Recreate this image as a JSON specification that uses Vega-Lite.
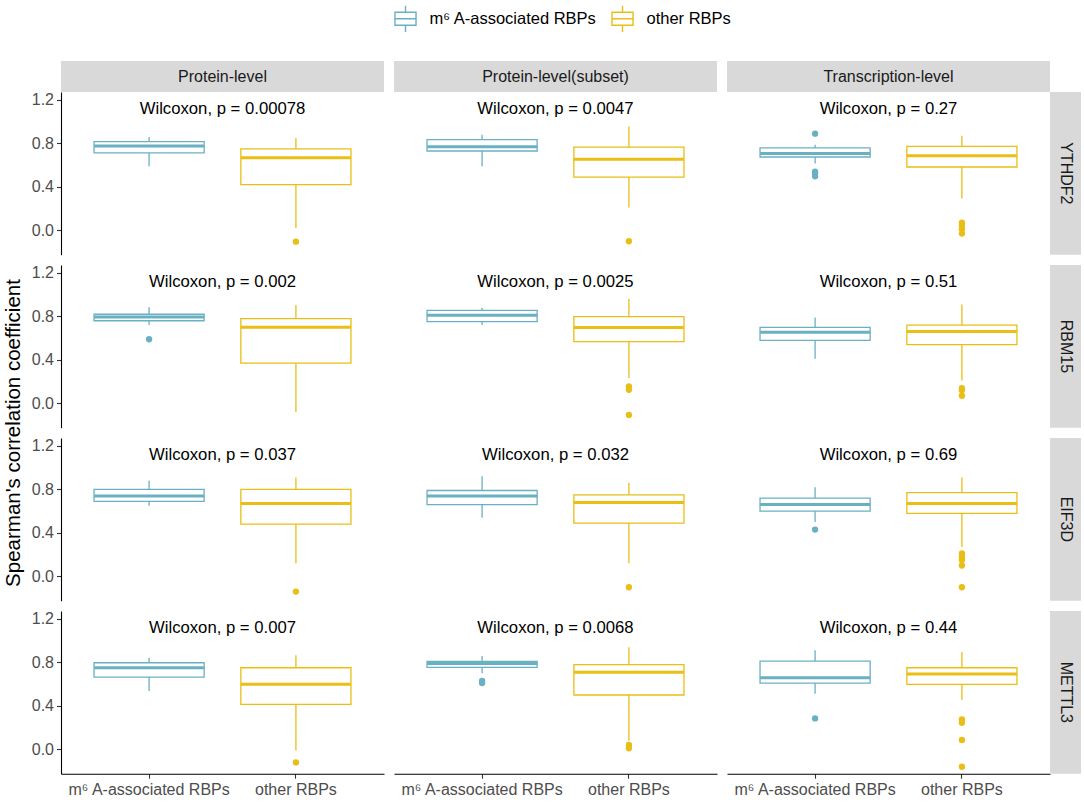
{
"$schema": "https://vega.github.io/schema/vega-lite/v6.json",
"padding": {"left": 3, "top": 4, "right": 0, "bottom": 0},
"bounds": "flush",
"align": "each",
"spacing": 0,
"columns": 8,
"data": {"values": [
{"kind":"box","level":"Protein-level","gene":"YTHDF2","group":"m⁶ A-associated RBPs","lo":0.59,"q1":0.712,"med":0.776,"q3":0.816,"hi":0.859},
{"kind":"box","level":"Protein-level","gene":"YTHDF2","group":"other RBPs","lo":0.022,"q1":0.42,"med":0.669,"q3":0.749,"hi":0.85},
{"kind":"box","level":"Protein-level","gene":"RBM15","group":"m⁶ A-associated RBPs","lo":0.72,"q1":0.76,"med":0.795,"q3":0.82,"hi":0.885},
{"kind":"box","level":"Protein-level","gene":"RBM15","group":"other RBPs","lo":-0.08,"q1":0.37,"med":0.70,"q3":0.78,"hi":0.905},
{"kind":"box","level":"Protein-level","gene":"EIF3D","group":"m⁶ A-associated RBPs","lo":0.65,"q1":0.69,"med":0.74,"q3":0.80,"hi":0.88},
{"kind":"box","level":"Protein-level","gene":"EIF3D","group":"other RBPs","lo":0.12,"q1":0.48,"med":0.67,"q3":0.80,"hi":0.91},
{"kind":"box","level":"Protein-level","gene":"METTL3","group":"m⁶ A-associated RBPs","lo":0.536,"q1":0.665,"med":0.751,"q3":0.797,"hi":0.843},
{"kind":"box","level":"Protein-level","gene":"METTL3","group":"other RBPs","lo":-0.01,"q1":0.414,"med":0.598,"q3":0.751,"hi":0.865},
{"kind":"box","level":"Protein-level(subset)","gene":"YTHDF2","group":"m⁶ A-associated RBPs","lo":0.59,"q1":0.73,"med":0.77,"q3":0.835,"hi":0.88},
{"kind":"box","level":"Protein-level(subset)","gene":"YTHDF2","group":"other RBPs","lo":0.21,"q1":0.49,"med":0.655,"q3":0.765,"hi":0.955},
{"kind":"box","level":"Protein-level(subset)","gene":"RBM15","group":"m⁶ A-associated RBPs","lo":0.721,"q1":0.752,"med":0.81,"q3":0.856,"hi":0.88},
{"kind":"box","level":"Protein-level(subset)","gene":"RBM15","group":"other RBPs","lo":0.231,"q1":0.568,"med":0.697,"q3":0.798,"hi":0.96},
{"kind":"box","level":"Protein-level(subset)","gene":"EIF3D","group":"m⁶ A-associated RBPs","lo":0.54,"q1":0.66,"med":0.74,"q3":0.79,"hi":0.92},
{"kind":"box","level":"Protein-level(subset)","gene":"EIF3D","group":"other RBPs","lo":0.12,"q1":0.49,"med":0.68,"q3":0.75,"hi":0.86},
{"kind":"box","level":"Protein-level(subset)","gene":"METTL3","group":"m⁶ A-associated RBPs","lo":0.70,"q1":0.755,"med":0.79,"q3":0.81,"hi":0.86},
{"kind":"box","level":"Protein-level(subset)","gene":"METTL3","group":"other RBPs","lo":0.08,"q1":0.50,"med":0.71,"q3":0.78,"hi":0.94},
{"kind":"box","level":"Transcription-level","gene":"YTHDF2","group":"m⁶ A-associated RBPs","lo":0.614,"q1":0.675,"med":0.706,"q3":0.758,"hi":0.788},
{"kind":"box","level":"Transcription-level","gene":"YTHDF2","group":"other RBPs","lo":0.292,"q1":0.583,"med":0.687,"q3":0.773,"hi":0.871},
{"kind":"box","level":"Transcription-level","gene":"RBM15","group":"m⁶ A-associated RBPs","lo":0.41,"q1":0.58,"med":0.655,"q3":0.70,"hi":0.79},
{"kind":"box","level":"Transcription-level","gene":"RBM15","group":"other RBPs","lo":0.21,"q1":0.54,"med":0.66,"q3":0.72,"hi":0.91},
{"kind":"box","level":"Transcription-level","gene":"EIF3D","group":"m⁶ A-associated RBPs","lo":0.50,"q1":0.60,"med":0.66,"q3":0.72,"hi":0.82},
{"kind":"box","level":"Transcription-level","gene":"EIF3D","group":"other RBPs","lo":0.27,"q1":0.58,"med":0.67,"q3":0.77,"hi":0.91},
{"kind":"box","level":"Transcription-level","gene":"METTL3","group":"m⁶ A-associated RBPs","lo":0.512,"q1":0.61,"med":0.659,"q3":0.812,"hi":0.911},
{"kind":"box","level":"Transcription-level","gene":"METTL3","group":"other RBPs","lo":0.454,"q1":0.598,"med":0.693,"q3":0.751,"hi":0.895},
{"kind":"out","level":"Protein-level","gene":"YTHDF2","group":"other RBPs","value":-0.104},
{"kind":"out","level":"Protein-level","gene":"RBM15","group":"m⁶ A-associated RBPs","value":0.59},
{"kind":"out","level":"Protein-level","gene":"EIF3D","group":"other RBPs","value":-0.14},
{"kind":"out","level":"Protein-level","gene":"METTL3","group":"other RBPs","value":-0.12},
{"kind":"out","level":"Protein-level(subset)","gene":"YTHDF2","group":"other RBPs","value":-0.1},
{"kind":"out","level":"Protein-level(subset)","gene":"RBM15","group":"other RBPs","value":0.155},
{"kind":"out","level":"Protein-level(subset)","gene":"RBM15","group":"other RBPs","value":0.125},
{"kind":"out","level":"Protein-level(subset)","gene":"RBM15","group":"other RBPs","value":-0.107},
{"kind":"out","level":"Protein-level(subset)","gene":"EIF3D","group":"other RBPs","value":-0.1},
{"kind":"out","level":"Protein-level(subset)","gene":"METTL3","group":"m⁶ A-associated RBPs","value":0.63},
{"kind":"out","level":"Protein-level(subset)","gene":"METTL3","group":"m⁶ A-associated RBPs","value":0.61},
{"kind":"out","level":"Protein-level(subset)","gene":"METTL3","group":"other RBPs","value":0.04},
{"kind":"out","level":"Protein-level(subset)","gene":"METTL3","group":"other RBPs","value":0.01},
{"kind":"out","level":"Transcription-level","gene":"YTHDF2","group":"m⁶ A-associated RBPs","value":0.89},
{"kind":"out","level":"Transcription-level","gene":"YTHDF2","group":"m⁶ A-associated RBPs","value":0.54},
{"kind":"out","level":"Transcription-level","gene":"YTHDF2","group":"m⁶ A-associated RBPs","value":0.52},
{"kind":"out","level":"Transcription-level","gene":"YTHDF2","group":"m⁶ A-associated RBPs","value":0.497},
{"kind":"out","level":"Transcription-level","gene":"YTHDF2","group":"other RBPs","value":0.07},
{"kind":"out","level":"Transcription-level","gene":"YTHDF2","group":"other RBPs","value":0.04},
{"kind":"out","level":"Transcription-level","gene":"YTHDF2","group":"other RBPs","value":0.01},
{"kind":"out","level":"Transcription-level","gene":"YTHDF2","group":"other RBPs","value":-0.03},
{"kind":"out","level":"Transcription-level","gene":"RBM15","group":"other RBPs","value":0.14},
{"kind":"out","level":"Transcription-level","gene":"RBM15","group":"other RBPs","value":0.12},
{"kind":"out","level":"Transcription-level","gene":"RBM15","group":"other RBPs","value":0.07},
{"kind":"out","level":"Transcription-level","gene":"EIF3D","group":"m⁶ A-associated RBPs","value":0.43},
{"kind":"out","level":"Transcription-level","gene":"EIF3D","group":"other RBPs","value":0.21},
{"kind":"out","level":"Transcription-level","gene":"EIF3D","group":"other RBPs","value":0.18},
{"kind":"out","level":"Transcription-level","gene":"EIF3D","group":"other RBPs","value":0.15},
{"kind":"out","level":"Transcription-level","gene":"EIF3D","group":"other RBPs","value":0.10},
{"kind":"out","level":"Transcription-level","gene":"EIF3D","group":"other RBPs","value":-0.10},
{"kind":"out","level":"Transcription-level","gene":"METTL3","group":"m⁶ A-associated RBPs","value":0.285},
{"kind":"out","level":"Transcription-level","gene":"METTL3","group":"other RBPs","value":0.276},
{"kind":"out","level":"Transcription-level","gene":"METTL3","group":"other RBPs","value":0.245},
{"kind":"out","level":"Transcription-level","gene":"METTL3","group":"other RBPs","value":0.086},
{"kind":"out","level":"Transcription-level","gene":"METTL3","group":"other RBPs","value":-0.16},
{"kind":"lab","level":"Protein-level","gene":"YTHDF2","label":"Wilcoxon, p = 0.00078"},
{"kind":"lab","level":"Protein-level","gene":"RBM15","label":"Wilcoxon, p = 0.002"},
{"kind":"lab","level":"Protein-level","gene":"EIF3D","label":"Wilcoxon, p = 0.037"},
{"kind":"lab","level":"Protein-level","gene":"METTL3","label":"Wilcoxon, p = 0.007"},
{"kind":"lab","level":"Protein-level(subset)","gene":"YTHDF2","label":"Wilcoxon, p = 0.0047"},
{"kind":"lab","level":"Protein-level(subset)","gene":"RBM15","label":"Wilcoxon, p = 0.0025"},
{"kind":"lab","level":"Protein-level(subset)","gene":"EIF3D","label":"Wilcoxon, p = 0.032"},
{"kind":"lab","level":"Protein-level(subset)","gene":"METTL3","label":"Wilcoxon, p = 0.0068"},
{"kind":"lab","level":"Transcription-level","gene":"YTHDF2","label":"Wilcoxon, p = 0.27"},
{"kind":"lab","level":"Transcription-level","gene":"RBM15","label":"Wilcoxon, p = 0.51"},
{"kind":"lab","level":"Transcription-level","gene":"EIF3D","label":"Wilcoxon, p = 0.69"},
{"kind":"lab","level":"Transcription-level","gene":"METTL3","label":"Wilcoxon, p = 0.44"},
{"kind":"strip","name":"Protein-level"},
{"kind":"strip","name":"Protein-level(subset)"},
{"kind":"strip","name":"Transcription-level"},
{"kind":"strip","name":"YTHDF2"},
{"kind":"strip","name":"RBM15"},
{"kind":"strip","name":"EIF3D"},
{"kind":"strip","name":"METTL3"},
{"kind":"ytitle","name":"Spearman's correlation coefficient"}
]},
"concat": [
{"width":20,"height":31,"transform":[{"filter":"false"}],"mark":"text","encoding":{}},
{"width":37,"height":31,"transform":[{"filter":"false"}],"mark":"text","encoding":{}},
{"width":323,"height":31,"view":{"fill":"#D9D9D9"},"transform":[{"filter":"datum.kind==='strip' && datum.name==='Protein-level'"}],"mark":{"type":"text","fontSize":16,"color":"#1A1A1A"},"encoding":{"text":{"field":"name"}}},
{"width":9.3,"height":31,"transform":[{"filter":"false"}],"mark":"text","encoding":{}},
{"width":323,"height":31,"view":{"fill":"#D9D9D9"},"transform":[{"filter":"datum.kind==='strip' && datum.name==='Protein-level(subset)'"}],"mark":{"type":"text","fontSize":16,"color":"#1A1A1A"},"encoding":{"text":{"field":"name"}}},
{"width":9.3,"height":31,"transform":[{"filter":"false"}],"mark":"text","encoding":{}},
{"width":323,"height":31,"view":{"fill":"#D9D9D9"},"transform":[{"filter":"datum.kind==='strip' && datum.name==='Transcription-level'"}],"mark":{"type":"text","fontSize":16,"color":"#1A1A1A"},"encoding":{"text":{"field":"name"}}},
{"width":31,"height":31,"transform":[{"filter":"false"}],"mark":"text","encoding":{}},

{"width":20,"height":162.7,"transform":[{"filter":"false"}],"mark":"text","encoding":{}},
{"width":37,"height":162.7,"transform":[{"filter":"false"}],"mark":"text","encoding":{}},
{"width":323,"height":162.7,"transform":[{"filter":"datum.level==='Protein-level' && datum.gene==='YTHDF2'"}],"layer":[
{"transform":[{"filter":"datum.kind==='box'"}],"mark":{"type":"rule","strokeWidth":1.3},"encoding":{"x":{"field":"group","type":"nominal","title":null,"scale":{"domain":["m⁶ A-associated RBPs","other RBPs"],"paddingInner":0,"paddingOuter":0.1},"axis":null},"y":{"field":"lo","type":"quantitative","title":null,"scale":{"domain":[-0.224,1.273],"nice":false,"zero":false},"axis":{"values":[0,0.4,0.8,1.2],"format":".1f"}},"y2":{"field":"hi"},"color":{"field":"group","type":"nominal","scale":{"domain":["m⁶ A-associated RBPs","other RBPs"],"range":["#6AB0C3","#E9BE15"]},"legend":null}}},
{"transform":[{"filter":"datum.kind==='box'"}],"mark":{"type":"bar","fill":"white","strokeWidth":1.3,"width":{"band":0.75}},"encoding":{"x":{"field":"group","type":"nominal","title":null,"scale":{"domain":["m⁶ A-associated RBPs","other RBPs"],"paddingInner":0,"paddingOuter":0.1},"axis":null},"y":{"field":"q1","type":"quantitative","title":null,"scale":{"domain":[-0.224,1.273],"nice":false,"zero":false},"axis":{"values":[0,0.4,0.8,1.2],"format":".1f"}},"y2":{"field":"q3"},"stroke":{"field":"group","type":"nominal","scale":{"domain":["m⁶ A-associated RBPs","other RBPs"],"range":["#6AB0C3","#E9BE15"]},"legend":{"title":null,"orient":"none","legendX":387,"legendY":-57,"direction":"horizontal","symbolType":"M-0.78,-0.48H0.78V0.48H-0.78Z M0,-0.48V-0.97 M0,0.48V0.97 M-0.78,0H0.78","symbolSize":729}}}},
{"transform":[{"filter":"datum.kind==='box'"}],"mark":{"type":"tick","thickness":3,"size":110,"opacity":1},"encoding":{"x":{"field":"group","type":"nominal","title":null,"scale":{"domain":["m⁶ A-associated RBPs","other RBPs"],"paddingInner":0,"paddingOuter":0.1},"axis":null},"y":{"field":"med","type":"quantitative","title":null,"scale":{"domain":[-0.224,1.273],"nice":false,"zero":false},"axis":{"values":[0,0.4,0.8,1.2],"format":".1f"}},"color":{"field":"group","type":"nominal","scale":{"domain":["m⁶ A-associated RBPs","other RBPs"],"range":["#6AB0C3","#E9BE15"]},"legend":null}}},
{"transform":[{"filter":"datum.kind==='out'"}],"mark":{"type":"point","filled":true,"opacity":1,"size":40},"encoding":{"x":{"field":"group","type":"nominal","title":null,"scale":{"domain":["m⁶ A-associated RBPs","other RBPs"],"paddingInner":0,"paddingOuter":0.1},"axis":null},"y":{"field":"value","type":"quantitative","title":null,"scale":{"domain":[-0.224,1.273],"nice":false,"zero":false},"axis":{"values":[0,0.4,0.8,1.2],"format":".1f"}},"color":{"field":"group","type":"nominal","scale":{"domain":["m⁶ A-associated RBPs","other RBPs"],"range":["#6AB0C3","#E9BE15"]},"legend":{"title":null,"orient":"top","direction":"horizontal"}}}},
{"transform":[{"filter":"datum.kind==='lab'"}],"mark":{"type":"text","fontSize":16.7,"color":"black","baseline":"alphabetic"},"encoding":{"y":{"datum":1.074,"type":"quantitative","title":null,"scale":{"domain":[-0.224,1.273],"nice":false,"zero":false},"axis":{"values":[0,0.4,0.8,1.2],"format":".1f"}},"text":{"field":"label"}}}
]},
{"width":9.3,"height":162.7,"transform":[{"filter":"false"}],"mark":"text","encoding":{}},
{"width":323,"height":162.7,"transform":[{"filter":"datum.level==='Protein-level(subset)' && datum.gene==='YTHDF2'"}],"layer":[
{"transform":[{"filter":"datum.kind==='box'"}],"mark":{"type":"rule","strokeWidth":1.3},"encoding":{"x":{"field":"group","type":"nominal","title":null,"scale":{"domain":["m⁶ A-associated RBPs","other RBPs"],"paddingInner":0,"paddingOuter":0.1},"axis":null},"y":{"field":"lo","type":"quantitative","title":null,"scale":{"domain":[-0.224,1.273],"nice":false,"zero":false},"axis":null},"y2":{"field":"hi"},"color":{"field":"group","type":"nominal","scale":{"domain":["m⁶ A-associated RBPs","other RBPs"],"range":["#6AB0C3","#E9BE15"]},"legend":null}}},
{"transform":[{"filter":"datum.kind==='box'"}],"mark":{"type":"bar","fill":"white","strokeWidth":1.3,"width":{"band":0.75}},"encoding":{"x":{"field":"group","type":"nominal","title":null,"scale":{"domain":["m⁶ A-associated RBPs","other RBPs"],"paddingInner":0,"paddingOuter":0.1},"axis":null},"y":{"field":"q1","type":"quantitative","title":null,"scale":{"domain":[-0.224,1.273],"nice":false,"zero":false},"axis":null},"y2":{"field":"q3"},"stroke":{"field":"group","type":"nominal","scale":{"domain":["m⁶ A-associated RBPs","other RBPs"],"range":["#6AB0C3","#E9BE15"]},"legend":{"title":null,"orient":"none","legendX":387,"legendY":-57,"direction":"horizontal","symbolType":"M-0.78,-0.48H0.78V0.48H-0.78Z M0,-0.48V-0.97 M0,0.48V0.97 M-0.78,0H0.78","symbolSize":729}}}},
{"transform":[{"filter":"datum.kind==='box'"}],"mark":{"type":"tick","thickness":3,"size":110,"opacity":1},"encoding":{"x":{"field":"group","type":"nominal","title":null,"scale":{"domain":["m⁶ A-associated RBPs","other RBPs"],"paddingInner":0,"paddingOuter":0.1},"axis":null},"y":{"field":"med","type":"quantitative","title":null,"scale":{"domain":[-0.224,1.273],"nice":false,"zero":false},"axis":null},"color":{"field":"group","type":"nominal","scale":{"domain":["m⁶ A-associated RBPs","other RBPs"],"range":["#6AB0C3","#E9BE15"]},"legend":null}}},
{"transform":[{"filter":"datum.kind==='out'"}],"mark":{"type":"point","filled":true,"opacity":1,"size":40},"encoding":{"x":{"field":"group","type":"nominal","title":null,"scale":{"domain":["m⁶ A-associated RBPs","other RBPs"],"paddingInner":0,"paddingOuter":0.1},"axis":null},"y":{"field":"value","type":"quantitative","title":null,"scale":{"domain":[-0.224,1.273],"nice":false,"zero":false},"axis":null},"color":{"field":"group","type":"nominal","scale":{"domain":["m⁶ A-associated RBPs","other RBPs"],"range":["#6AB0C3","#E9BE15"]},"legend":{"title":null,"orient":"top","direction":"horizontal"}}}},
{"transform":[{"filter":"datum.kind==='lab'"}],"mark":{"type":"text","fontSize":16.7,"color":"black","baseline":"alphabetic"},"encoding":{"y":{"datum":1.074,"type":"quantitative","title":null,"scale":{"domain":[-0.224,1.273],"nice":false,"zero":false},"axis":null},"text":{"field":"label"}}}
]},
{"width":9.3,"height":162.7,"transform":[{"filter":"false"}],"mark":"text","encoding":{}},
{"width":323,"height":162.7,"transform":[{"filter":"datum.level==='Transcription-level' && datum.gene==='YTHDF2'"}],"layer":[
{"transform":[{"filter":"datum.kind==='box'"}],"mark":{"type":"rule","strokeWidth":1.3},"encoding":{"x":{"field":"group","type":"nominal","title":null,"scale":{"domain":["m⁶ A-associated RBPs","other RBPs"],"paddingInner":0,"paddingOuter":0.1},"axis":null},"y":{"field":"lo","type":"quantitative","title":null,"scale":{"domain":[-0.224,1.273],"nice":false,"zero":false},"axis":null},"y2":{"field":"hi"},"color":{"field":"group","type":"nominal","scale":{"domain":["m⁶ A-associated RBPs","other RBPs"],"range":["#6AB0C3","#E9BE15"]},"legend":null}}},
{"transform":[{"filter":"datum.kind==='box'"}],"mark":{"type":"bar","fill":"white","strokeWidth":1.3,"width":{"band":0.75}},"encoding":{"x":{"field":"group","type":"nominal","title":null,"scale":{"domain":["m⁶ A-associated RBPs","other RBPs"],"paddingInner":0,"paddingOuter":0.1},"axis":null},"y":{"field":"q1","type":"quantitative","title":null,"scale":{"domain":[-0.224,1.273],"nice":false,"zero":false},"axis":null},"y2":{"field":"q3"},"stroke":{"field":"group","type":"nominal","scale":{"domain":["m⁶ A-associated RBPs","other RBPs"],"range":["#6AB0C3","#E9BE15"]},"legend":{"title":null,"orient":"none","legendX":387,"legendY":-57,"direction":"horizontal","symbolType":"M-0.78,-0.48H0.78V0.48H-0.78Z M0,-0.48V-0.97 M0,0.48V0.97 M-0.78,0H0.78","symbolSize":729}}}},
{"transform":[{"filter":"datum.kind==='box'"}],"mark":{"type":"tick","thickness":3,"size":110,"opacity":1},"encoding":{"x":{"field":"group","type":"nominal","title":null,"scale":{"domain":["m⁶ A-associated RBPs","other RBPs"],"paddingInner":0,"paddingOuter":0.1},"axis":null},"y":{"field":"med","type":"quantitative","title":null,"scale":{"domain":[-0.224,1.273],"nice":false,"zero":false},"axis":null},"color":{"field":"group","type":"nominal","scale":{"domain":["m⁶ A-associated RBPs","other RBPs"],"range":["#6AB0C3","#E9BE15"]},"legend":null}}},
{"transform":[{"filter":"datum.kind==='out'"}],"mark":{"type":"point","filled":true,"opacity":1,"size":40},"encoding":{"x":{"field":"group","type":"nominal","title":null,"scale":{"domain":["m⁶ A-associated RBPs","other RBPs"],"paddingInner":0,"paddingOuter":0.1},"axis":null},"y":{"field":"value","type":"quantitative","title":null,"scale":{"domain":[-0.224,1.273],"nice":false,"zero":false},"axis":null},"color":{"field":"group","type":"nominal","scale":{"domain":["m⁶ A-associated RBPs","other RBPs"],"range":["#6AB0C3","#E9BE15"]},"legend":{"title":null,"orient":"top","direction":"horizontal"}}}},
{"transform":[{"filter":"datum.kind==='lab'"}],"mark":{"type":"text","fontSize":16.7,"color":"black","baseline":"alphabetic"},"encoding":{"y":{"datum":1.074,"type":"quantitative","title":null,"scale":{"domain":[-0.224,1.273],"nice":false,"zero":false},"axis":null},"text":{"field":"label"}}}
]},
{"width":31,"height":162.7,"view":{"fill":"#D9D9D9"},"transform":[{"filter":"datum.kind==='strip' && datum.name==='YTHDF2'"}],"mark":{"type":"text","fontSize":16,"color":"#1A1A1A","angle":90},"encoding":{"text":{"field":"name"}}},

{"width":20,"height":10,"transform":[{"filter":"false"}],"mark":"text","encoding":{}},
{"width":37,"height":10,"transform":[{"filter":"false"}],"mark":"text","encoding":{}},
{"width":323,"height":10,"transform":[{"filter":"false"}],"mark":"text","encoding":{}},
{"width":9.3,"height":10,"transform":[{"filter":"false"}],"mark":"text","encoding":{}},
{"width":323,"height":10,"transform":[{"filter":"false"}],"mark":"text","encoding":{}},
{"width":9.3,"height":10,"transform":[{"filter":"false"}],"mark":"text","encoding":{}},
{"width":323,"height":10,"transform":[{"filter":"false"}],"mark":"text","encoding":{}},
{"width":31,"height":10,"transform":[{"filter":"false"}],"mark":"text","encoding":{}},

{"width":20,"height":162.7,"transform":[{"filter":"false"}],"mark":"text","encoding":{}},
{"width":37,"height":162.7,"transform":[{"filter":"false"}],"mark":"text","encoding":{}},
{"width":323,"height":162.7,"transform":[{"filter":"datum.level==='Protein-level' && datum.gene==='RBM15'"}],"layer":[
{"transform":[{"filter":"datum.kind==='box'"}],"mark":{"type":"rule","strokeWidth":1.3},"encoding":{"x":{"field":"group","type":"nominal","title":null,"scale":{"domain":["m⁶ A-associated RBPs","other RBPs"],"paddingInner":0,"paddingOuter":0.1},"axis":null},"y":{"field":"lo","type":"quantitative","title":null,"scale":{"domain":[-0.224,1.273],"nice":false,"zero":false},"axis":{"values":[0,0.4,0.8,1.2],"format":".1f"}},"y2":{"field":"hi"},"color":{"field":"group","type":"nominal","scale":{"domain":["m⁶ A-associated RBPs","other RBPs"],"range":["#6AB0C3","#E9BE15"]},"legend":null}}},
{"transform":[{"filter":"datum.kind==='box'"}],"mark":{"type":"bar","fill":"white","strokeWidth":1.3,"width":{"band":0.75}},"encoding":{"x":{"field":"group","type":"nominal","title":null,"scale":{"domain":["m⁶ A-associated RBPs","other RBPs"],"paddingInner":0,"paddingOuter":0.1},"axis":null},"y":{"field":"q1","type":"quantitative","title":null,"scale":{"domain":[-0.224,1.273],"nice":false,"zero":false},"axis":{"values":[0,0.4,0.8,1.2],"format":".1f"}},"y2":{"field":"q3"},"stroke":{"field":"group","type":"nominal","scale":{"domain":["m⁶ A-associated RBPs","other RBPs"],"range":["#6AB0C3","#E9BE15"]},"legend":{"title":null,"orient":"none","legendX":387,"legendY":-57,"direction":"horizontal","symbolType":"M-0.78,-0.48H0.78V0.48H-0.78Z M0,-0.48V-0.97 M0,0.48V0.97 M-0.78,0H0.78","symbolSize":729}}}},
{"transform":[{"filter":"datum.kind==='box'"}],"mark":{"type":"tick","thickness":3,"size":110,"opacity":1},"encoding":{"x":{"field":"group","type":"nominal","title":null,"scale":{"domain":["m⁶ A-associated RBPs","other RBPs"],"paddingInner":0,"paddingOuter":0.1},"axis":null},"y":{"field":"med","type":"quantitative","title":null,"scale":{"domain":[-0.224,1.273],"nice":false,"zero":false},"axis":{"values":[0,0.4,0.8,1.2],"format":".1f"}},"color":{"field":"group","type":"nominal","scale":{"domain":["m⁶ A-associated RBPs","other RBPs"],"range":["#6AB0C3","#E9BE15"]},"legend":null}}},
{"transform":[{"filter":"datum.kind==='out'"}],"mark":{"type":"point","filled":true,"opacity":1,"size":40},"encoding":{"x":{"field":"group","type":"nominal","title":null,"scale":{"domain":["m⁶ A-associated RBPs","other RBPs"],"paddingInner":0,"paddingOuter":0.1},"axis":null},"y":{"field":"value","type":"quantitative","title":null,"scale":{"domain":[-0.224,1.273],"nice":false,"zero":false},"axis":{"values":[0,0.4,0.8,1.2],"format":".1f"}},"color":{"field":"group","type":"nominal","scale":{"domain":["m⁶ A-associated RBPs","other RBPs"],"range":["#6AB0C3","#E9BE15"]},"legend":{"title":null,"orient":"top","direction":"horizontal"}}}},
{"transform":[{"filter":"datum.kind==='lab'"}],"mark":{"type":"text","fontSize":16.7,"color":"black","baseline":"alphabetic"},"encoding":{"y":{"datum":1.074,"type":"quantitative","title":null,"scale":{"domain":[-0.224,1.273],"nice":false,"zero":false},"axis":{"values":[0,0.4,0.8,1.2],"format":".1f"}},"text":{"field":"label"}}}
]},
{"width":9.3,"height":162.7,"transform":[{"filter":"false"}],"mark":"text","encoding":{}},
{"width":323,"height":162.7,"transform":[{"filter":"datum.level==='Protein-level(subset)' && datum.gene==='RBM15'"}],"layer":[
{"transform":[{"filter":"datum.kind==='box'"}],"mark":{"type":"rule","strokeWidth":1.3},"encoding":{"x":{"field":"group","type":"nominal","title":null,"scale":{"domain":["m⁶ A-associated RBPs","other RBPs"],"paddingInner":0,"paddingOuter":0.1},"axis":null},"y":{"field":"lo","type":"quantitative","title":null,"scale":{"domain":[-0.224,1.273],"nice":false,"zero":false},"axis":null},"y2":{"field":"hi"},"color":{"field":"group","type":"nominal","scale":{"domain":["m⁶ A-associated RBPs","other RBPs"],"range":["#6AB0C3","#E9BE15"]},"legend":null}}},
{"transform":[{"filter":"datum.kind==='box'"}],"mark":{"type":"bar","fill":"white","strokeWidth":1.3,"width":{"band":0.75}},"encoding":{"x":{"field":"group","type":"nominal","title":null,"scale":{"domain":["m⁶ A-associated RBPs","other RBPs"],"paddingInner":0,"paddingOuter":0.1},"axis":null},"y":{"field":"q1","type":"quantitative","title":null,"scale":{"domain":[-0.224,1.273],"nice":false,"zero":false},"axis":null},"y2":{"field":"q3"},"stroke":{"field":"group","type":"nominal","scale":{"domain":["m⁶ A-associated RBPs","other RBPs"],"range":["#6AB0C3","#E9BE15"]},"legend":{"title":null,"orient":"none","legendX":387,"legendY":-57,"direction":"horizontal","symbolType":"M-0.78,-0.48H0.78V0.48H-0.78Z M0,-0.48V-0.97 M0,0.48V0.97 M-0.78,0H0.78","symbolSize":729}}}},
{"transform":[{"filter":"datum.kind==='box'"}],"mark":{"type":"tick","thickness":3,"size":110,"opacity":1},"encoding":{"x":{"field":"group","type":"nominal","title":null,"scale":{"domain":["m⁶ A-associated RBPs","other RBPs"],"paddingInner":0,"paddingOuter":0.1},"axis":null},"y":{"field":"med","type":"quantitative","title":null,"scale":{"domain":[-0.224,1.273],"nice":false,"zero":false},"axis":null},"color":{"field":"group","type":"nominal","scale":{"domain":["m⁶ A-associated RBPs","other RBPs"],"range":["#6AB0C3","#E9BE15"]},"legend":null}}},
{"transform":[{"filter":"datum.kind==='out'"}],"mark":{"type":"point","filled":true,"opacity":1,"size":40},"encoding":{"x":{"field":"group","type":"nominal","title":null,"scale":{"domain":["m⁶ A-associated RBPs","other RBPs"],"paddingInner":0,"paddingOuter":0.1},"axis":null},"y":{"field":"value","type":"quantitative","title":null,"scale":{"domain":[-0.224,1.273],"nice":false,"zero":false},"axis":null},"color":{"field":"group","type":"nominal","scale":{"domain":["m⁶ A-associated RBPs","other RBPs"],"range":["#6AB0C3","#E9BE15"]},"legend":{"title":null,"orient":"top","direction":"horizontal"}}}},
{"transform":[{"filter":"datum.kind==='lab'"}],"mark":{"type":"text","fontSize":16.7,"color":"black","baseline":"alphabetic"},"encoding":{"y":{"datum":1.074,"type":"quantitative","title":null,"scale":{"domain":[-0.224,1.273],"nice":false,"zero":false},"axis":null},"text":{"field":"label"}}}
]},
{"width":9.3,"height":162.7,"transform":[{"filter":"false"}],"mark":"text","encoding":{}},
{"width":323,"height":162.7,"transform":[{"filter":"datum.level==='Transcription-level' && datum.gene==='RBM15'"}],"layer":[
{"transform":[{"filter":"datum.kind==='box'"}],"mark":{"type":"rule","strokeWidth":1.3},"encoding":{"x":{"field":"group","type":"nominal","title":null,"scale":{"domain":["m⁶ A-associated RBPs","other RBPs"],"paddingInner":0,"paddingOuter":0.1},"axis":null},"y":{"field":"lo","type":"quantitative","title":null,"scale":{"domain":[-0.224,1.273],"nice":false,"zero":false},"axis":null},"y2":{"field":"hi"},"color":{"field":"group","type":"nominal","scale":{"domain":["m⁶ A-associated RBPs","other RBPs"],"range":["#6AB0C3","#E9BE15"]},"legend":null}}},
{"transform":[{"filter":"datum.kind==='box'"}],"mark":{"type":"bar","fill":"white","strokeWidth":1.3,"width":{"band":0.75}},"encoding":{"x":{"field":"group","type":"nominal","title":null,"scale":{"domain":["m⁶ A-associated RBPs","other RBPs"],"paddingInner":0,"paddingOuter":0.1},"axis":null},"y":{"field":"q1","type":"quantitative","title":null,"scale":{"domain":[-0.224,1.273],"nice":false,"zero":false},"axis":null},"y2":{"field":"q3"},"stroke":{"field":"group","type":"nominal","scale":{"domain":["m⁶ A-associated RBPs","other RBPs"],"range":["#6AB0C3","#E9BE15"]},"legend":{"title":null,"orient":"none","legendX":387,"legendY":-57,"direction":"horizontal","symbolType":"M-0.78,-0.48H0.78V0.48H-0.78Z M0,-0.48V-0.97 M0,0.48V0.97 M-0.78,0H0.78","symbolSize":729}}}},
{"transform":[{"filter":"datum.kind==='box'"}],"mark":{"type":"tick","thickness":3,"size":110,"opacity":1},"encoding":{"x":{"field":"group","type":"nominal","title":null,"scale":{"domain":["m⁶ A-associated RBPs","other RBPs"],"paddingInner":0,"paddingOuter":0.1},"axis":null},"y":{"field":"med","type":"quantitative","title":null,"scale":{"domain":[-0.224,1.273],"nice":false,"zero":false},"axis":null},"color":{"field":"group","type":"nominal","scale":{"domain":["m⁶ A-associated RBPs","other RBPs"],"range":["#6AB0C3","#E9BE15"]},"legend":null}}},
{"transform":[{"filter":"datum.kind==='out'"}],"mark":{"type":"point","filled":true,"opacity":1,"size":40},"encoding":{"x":{"field":"group","type":"nominal","title":null,"scale":{"domain":["m⁶ A-associated RBPs","other RBPs"],"paddingInner":0,"paddingOuter":0.1},"axis":null},"y":{"field":"value","type":"quantitative","title":null,"scale":{"domain":[-0.224,1.273],"nice":false,"zero":false},"axis":null},"color":{"field":"group","type":"nominal","scale":{"domain":["m⁶ A-associated RBPs","other RBPs"],"range":["#6AB0C3","#E9BE15"]},"legend":{"title":null,"orient":"top","direction":"horizontal"}}}},
{"transform":[{"filter":"datum.kind==='lab'"}],"mark":{"type":"text","fontSize":16.7,"color":"black","baseline":"alphabetic"},"encoding":{"y":{"datum":1.074,"type":"quantitative","title":null,"scale":{"domain":[-0.224,1.273],"nice":false,"zero":false},"axis":null},"text":{"field":"label"}}}
]},
{"width":31,"height":162.7,"view":{"fill":"#D9D9D9"},"transform":[{"filter":"datum.kind==='strip' && datum.name==='RBM15'"}],"mark":{"type":"text","fontSize":16,"color":"#1A1A1A","angle":90},"encoding":{"text":{"field":"name"}}},

{"width":20,"height":10,"transform":[{"filter":"datum.kind==='ytitle'"}],"mark":{"type":"text","angle":270,"fontSize":20.5,"color":"black"},"encoding":{"text":{"field":"name"}}},
{"width":37,"height":10,"transform":[{"filter":"false"}],"mark":"text","encoding":{}},
{"width":323,"height":10,"transform":[{"filter":"false"}],"mark":"text","encoding":{}},
{"width":9.3,"height":10,"transform":[{"filter":"false"}],"mark":"text","encoding":{}},
{"width":323,"height":10,"transform":[{"filter":"false"}],"mark":"text","encoding":{}},
{"width":9.3,"height":10,"transform":[{"filter":"false"}],"mark":"text","encoding":{}},
{"width":323,"height":10,"transform":[{"filter":"false"}],"mark":"text","encoding":{}},
{"width":31,"height":10,"transform":[{"filter":"false"}],"mark":"text","encoding":{}},

{"width":20,"height":162.7,"transform":[{"filter":"false"}],"mark":"text","encoding":{}},
{"width":37,"height":162.7,"transform":[{"filter":"false"}],"mark":"text","encoding":{}},
{"width":323,"height":162.7,"transform":[{"filter":"datum.level==='Protein-level' && datum.gene==='EIF3D'"}],"layer":[
{"transform":[{"filter":"datum.kind==='box'"}],"mark":{"type":"rule","strokeWidth":1.3},"encoding":{"x":{"field":"group","type":"nominal","title":null,"scale":{"domain":["m⁶ A-associated RBPs","other RBPs"],"paddingInner":0,"paddingOuter":0.1},"axis":null},"y":{"field":"lo","type":"quantitative","title":null,"scale":{"domain":[-0.224,1.273],"nice":false,"zero":false},"axis":{"values":[0,0.4,0.8,1.2],"format":".1f"}},"y2":{"field":"hi"},"color":{"field":"group","type":"nominal","scale":{"domain":["m⁶ A-associated RBPs","other RBPs"],"range":["#6AB0C3","#E9BE15"]},"legend":null}}},
{"transform":[{"filter":"datum.kind==='box'"}],"mark":{"type":"bar","fill":"white","strokeWidth":1.3,"width":{"band":0.75}},"encoding":{"x":{"field":"group","type":"nominal","title":null,"scale":{"domain":["m⁶ A-associated RBPs","other RBPs"],"paddingInner":0,"paddingOuter":0.1},"axis":null},"y":{"field":"q1","type":"quantitative","title":null,"scale":{"domain":[-0.224,1.273],"nice":false,"zero":false},"axis":{"values":[0,0.4,0.8,1.2],"format":".1f"}},"y2":{"field":"q3"},"stroke":{"field":"group","type":"nominal","scale":{"domain":["m⁶ A-associated RBPs","other RBPs"],"range":["#6AB0C3","#E9BE15"]},"legend":{"title":null,"orient":"none","legendX":387,"legendY":-57,"direction":"horizontal","symbolType":"M-0.78,-0.48H0.78V0.48H-0.78Z M0,-0.48V-0.97 M0,0.48V0.97 M-0.78,0H0.78","symbolSize":729}}}},
{"transform":[{"filter":"datum.kind==='box'"}],"mark":{"type":"tick","thickness":3,"size":110,"opacity":1},"encoding":{"x":{"field":"group","type":"nominal","title":null,"scale":{"domain":["m⁶ A-associated RBPs","other RBPs"],"paddingInner":0,"paddingOuter":0.1},"axis":null},"y":{"field":"med","type":"quantitative","title":null,"scale":{"domain":[-0.224,1.273],"nice":false,"zero":false},"axis":{"values":[0,0.4,0.8,1.2],"format":".1f"}},"color":{"field":"group","type":"nominal","scale":{"domain":["m⁶ A-associated RBPs","other RBPs"],"range":["#6AB0C3","#E9BE15"]},"legend":null}}},
{"transform":[{"filter":"datum.kind==='out'"}],"mark":{"type":"point","filled":true,"opacity":1,"size":40},"encoding":{"x":{"field":"group","type":"nominal","title":null,"scale":{"domain":["m⁶ A-associated RBPs","other RBPs"],"paddingInner":0,"paddingOuter":0.1},"axis":null},"y":{"field":"value","type":"quantitative","title":null,"scale":{"domain":[-0.224,1.273],"nice":false,"zero":false},"axis":{"values":[0,0.4,0.8,1.2],"format":".1f"}},"color":{"field":"group","type":"nominal","scale":{"domain":["m⁶ A-associated RBPs","other RBPs"],"range":["#6AB0C3","#E9BE15"]},"legend":{"title":null,"orient":"top","direction":"horizontal"}}}},
{"transform":[{"filter":"datum.kind==='lab'"}],"mark":{"type":"text","fontSize":16.7,"color":"black","baseline":"alphabetic"},"encoding":{"y":{"datum":1.074,"type":"quantitative","title":null,"scale":{"domain":[-0.224,1.273],"nice":false,"zero":false},"axis":{"values":[0,0.4,0.8,1.2],"format":".1f"}},"text":{"field":"label"}}}
]},
{"width":9.3,"height":162.7,"transform":[{"filter":"false"}],"mark":"text","encoding":{}},
{"width":323,"height":162.7,"transform":[{"filter":"datum.level==='Protein-level(subset)' && datum.gene==='EIF3D'"}],"layer":[
{"transform":[{"filter":"datum.kind==='box'"}],"mark":{"type":"rule","strokeWidth":1.3},"encoding":{"x":{"field":"group","type":"nominal","title":null,"scale":{"domain":["m⁶ A-associated RBPs","other RBPs"],"paddingInner":0,"paddingOuter":0.1},"axis":null},"y":{"field":"lo","type":"quantitative","title":null,"scale":{"domain":[-0.224,1.273],"nice":false,"zero":false},"axis":null},"y2":{"field":"hi"},"color":{"field":"group","type":"nominal","scale":{"domain":["m⁶ A-associated RBPs","other RBPs"],"range":["#6AB0C3","#E9BE15"]},"legend":null}}},
{"transform":[{"filter":"datum.kind==='box'"}],"mark":{"type":"bar","fill":"white","strokeWidth":1.3,"width":{"band":0.75}},"encoding":{"x":{"field":"group","type":"nominal","title":null,"scale":{"domain":["m⁶ A-associated RBPs","other RBPs"],"paddingInner":0,"paddingOuter":0.1},"axis":null},"y":{"field":"q1","type":"quantitative","title":null,"scale":{"domain":[-0.224,1.273],"nice":false,"zero":false},"axis":null},"y2":{"field":"q3"},"stroke":{"field":"group","type":"nominal","scale":{"domain":["m⁶ A-associated RBPs","other RBPs"],"range":["#6AB0C3","#E9BE15"]},"legend":{"title":null,"orient":"none","legendX":387,"legendY":-57,"direction":"horizontal","symbolType":"M-0.78,-0.48H0.78V0.48H-0.78Z M0,-0.48V-0.97 M0,0.48V0.97 M-0.78,0H0.78","symbolSize":729}}}},
{"transform":[{"filter":"datum.kind==='box'"}],"mark":{"type":"tick","thickness":3,"size":110,"opacity":1},"encoding":{"x":{"field":"group","type":"nominal","title":null,"scale":{"domain":["m⁶ A-associated RBPs","other RBPs"],"paddingInner":0,"paddingOuter":0.1},"axis":null},"y":{"field":"med","type":"quantitative","title":null,"scale":{"domain":[-0.224,1.273],"nice":false,"zero":false},"axis":null},"color":{"field":"group","type":"nominal","scale":{"domain":["m⁶ A-associated RBPs","other RBPs"],"range":["#6AB0C3","#E9BE15"]},"legend":null}}},
{"transform":[{"filter":"datum.kind==='out'"}],"mark":{"type":"point","filled":true,"opacity":1,"size":40},"encoding":{"x":{"field":"group","type":"nominal","title":null,"scale":{"domain":["m⁶ A-associated RBPs","other RBPs"],"paddingInner":0,"paddingOuter":0.1},"axis":null},"y":{"field":"value","type":"quantitative","title":null,"scale":{"domain":[-0.224,1.273],"nice":false,"zero":false},"axis":null},"color":{"field":"group","type":"nominal","scale":{"domain":["m⁶ A-associated RBPs","other RBPs"],"range":["#6AB0C3","#E9BE15"]},"legend":{"title":null,"orient":"top","direction":"horizontal"}}}},
{"transform":[{"filter":"datum.kind==='lab'"}],"mark":{"type":"text","fontSize":16.7,"color":"black","baseline":"alphabetic"},"encoding":{"y":{"datum":1.074,"type":"quantitative","title":null,"scale":{"domain":[-0.224,1.273],"nice":false,"zero":false},"axis":null},"text":{"field":"label"}}}
]},
{"width":9.3,"height":162.7,"transform":[{"filter":"false"}],"mark":"text","encoding":{}},
{"width":323,"height":162.7,"transform":[{"filter":"datum.level==='Transcription-level' && datum.gene==='EIF3D'"}],"layer":[
{"transform":[{"filter":"datum.kind==='box'"}],"mark":{"type":"rule","strokeWidth":1.3},"encoding":{"x":{"field":"group","type":"nominal","title":null,"scale":{"domain":["m⁶ A-associated RBPs","other RBPs"],"paddingInner":0,"paddingOuter":0.1},"axis":null},"y":{"field":"lo","type":"quantitative","title":null,"scale":{"domain":[-0.224,1.273],"nice":false,"zero":false},"axis":null},"y2":{"field":"hi"},"color":{"field":"group","type":"nominal","scale":{"domain":["m⁶ A-associated RBPs","other RBPs"],"range":["#6AB0C3","#E9BE15"]},"legend":null}}},
{"transform":[{"filter":"datum.kind==='box'"}],"mark":{"type":"bar","fill":"white","strokeWidth":1.3,"width":{"band":0.75}},"encoding":{"x":{"field":"group","type":"nominal","title":null,"scale":{"domain":["m⁶ A-associated RBPs","other RBPs"],"paddingInner":0,"paddingOuter":0.1},"axis":null},"y":{"field":"q1","type":"quantitative","title":null,"scale":{"domain":[-0.224,1.273],"nice":false,"zero":false},"axis":null},"y2":{"field":"q3"},"stroke":{"field":"group","type":"nominal","scale":{"domain":["m⁶ A-associated RBPs","other RBPs"],"range":["#6AB0C3","#E9BE15"]},"legend":{"title":null,"orient":"none","legendX":387,"legendY":-57,"direction":"horizontal","symbolType":"M-0.78,-0.48H0.78V0.48H-0.78Z M0,-0.48V-0.97 M0,0.48V0.97 M-0.78,0H0.78","symbolSize":729}}}},
{"transform":[{"filter":"datum.kind==='box'"}],"mark":{"type":"tick","thickness":3,"size":110,"opacity":1},"encoding":{"x":{"field":"group","type":"nominal","title":null,"scale":{"domain":["m⁶ A-associated RBPs","other RBPs"],"paddingInner":0,"paddingOuter":0.1},"axis":null},"y":{"field":"med","type":"quantitative","title":null,"scale":{"domain":[-0.224,1.273],"nice":false,"zero":false},"axis":null},"color":{"field":"group","type":"nominal","scale":{"domain":["m⁶ A-associated RBPs","other RBPs"],"range":["#6AB0C3","#E9BE15"]},"legend":null}}},
{"transform":[{"filter":"datum.kind==='out'"}],"mark":{"type":"point","filled":true,"opacity":1,"size":40},"encoding":{"x":{"field":"group","type":"nominal","title":null,"scale":{"domain":["m⁶ A-associated RBPs","other RBPs"],"paddingInner":0,"paddingOuter":0.1},"axis":null},"y":{"field":"value","type":"quantitative","title":null,"scale":{"domain":[-0.224,1.273],"nice":false,"zero":false},"axis":null},"color":{"field":"group","type":"nominal","scale":{"domain":["m⁶ A-associated RBPs","other RBPs"],"range":["#6AB0C3","#E9BE15"]},"legend":{"title":null,"orient":"top","direction":"horizontal"}}}},
{"transform":[{"filter":"datum.kind==='lab'"}],"mark":{"type":"text","fontSize":16.7,"color":"black","baseline":"alphabetic"},"encoding":{"y":{"datum":1.074,"type":"quantitative","title":null,"scale":{"domain":[-0.224,1.273],"nice":false,"zero":false},"axis":null},"text":{"field":"label"}}}
]},
{"width":31,"height":162.7,"view":{"fill":"#D9D9D9"},"transform":[{"filter":"datum.kind==='strip' && datum.name==='EIF3D'"}],"mark":{"type":"text","fontSize":16,"color":"#1A1A1A","angle":90},"encoding":{"text":{"field":"name"}}},

{"width":20,"height":10,"transform":[{"filter":"false"}],"mark":"text","encoding":{}},
{"width":37,"height":10,"transform":[{"filter":"false"}],"mark":"text","encoding":{}},
{"width":323,"height":10,"transform":[{"filter":"false"}],"mark":"text","encoding":{}},
{"width":9.3,"height":10,"transform":[{"filter":"false"}],"mark":"text","encoding":{}},
{"width":323,"height":10,"transform":[{"filter":"false"}],"mark":"text","encoding":{}},
{"width":9.3,"height":10,"transform":[{"filter":"false"}],"mark":"text","encoding":{}},
{"width":323,"height":10,"transform":[{"filter":"false"}],"mark":"text","encoding":{}},
{"width":31,"height":10,"transform":[{"filter":"false"}],"mark":"text","encoding":{}},

{"width":20,"height":162.7,"transform":[{"filter":"false"}],"mark":"text","encoding":{}},
{"width":37,"height":162.7,"transform":[{"filter":"false"}],"mark":"text","encoding":{}},
{"width":323,"height":162.7,"transform":[{"filter":"datum.level==='Protein-level' && datum.gene==='METTL3'"}],"layer":[
{"transform":[{"filter":"datum.kind==='box'"}],"mark":{"type":"rule","strokeWidth":1.3},"encoding":{"x":{"field":"group","type":"nominal","title":null,"scale":{"domain":["m⁶ A-associated RBPs","other RBPs"],"paddingInner":0,"paddingOuter":0.1},"axis":{"labelAngle":0}},"y":{"field":"lo","type":"quantitative","title":null,"scale":{"domain":[-0.224,1.273],"nice":false,"zero":false},"axis":{"values":[0,0.4,0.8,1.2],"format":".1f"}},"y2":{"field":"hi"},"color":{"field":"group","type":"nominal","scale":{"domain":["m⁶ A-associated RBPs","other RBPs"],"range":["#6AB0C3","#E9BE15"]},"legend":null}}},
{"transform":[{"filter":"datum.kind==='box'"}],"mark":{"type":"bar","fill":"white","strokeWidth":1.3,"width":{"band":0.75}},"encoding":{"x":{"field":"group","type":"nominal","title":null,"scale":{"domain":["m⁶ A-associated RBPs","other RBPs"],"paddingInner":0,"paddingOuter":0.1},"axis":{"labelAngle":0}},"y":{"field":"q1","type":"quantitative","title":null,"scale":{"domain":[-0.224,1.273],"nice":false,"zero":false},"axis":{"values":[0,0.4,0.8,1.2],"format":".1f"}},"y2":{"field":"q3"},"stroke":{"field":"group","type":"nominal","scale":{"domain":["m⁶ A-associated RBPs","other RBPs"],"range":["#6AB0C3","#E9BE15"]},"legend":{"title":null,"orient":"none","legendX":387,"legendY":-57,"direction":"horizontal","symbolType":"M-0.78,-0.48H0.78V0.48H-0.78Z M0,-0.48V-0.97 M0,0.48V0.97 M-0.78,0H0.78","symbolSize":729}}}},
{"transform":[{"filter":"datum.kind==='box'"}],"mark":{"type":"tick","thickness":3,"size":110,"opacity":1},"encoding":{"x":{"field":"group","type":"nominal","title":null,"scale":{"domain":["m⁶ A-associated RBPs","other RBPs"],"paddingInner":0,"paddingOuter":0.1},"axis":{"labelAngle":0}},"y":{"field":"med","type":"quantitative","title":null,"scale":{"domain":[-0.224,1.273],"nice":false,"zero":false},"axis":{"values":[0,0.4,0.8,1.2],"format":".1f"}},"color":{"field":"group","type":"nominal","scale":{"domain":["m⁶ A-associated RBPs","other RBPs"],"range":["#6AB0C3","#E9BE15"]},"legend":null}}},
{"transform":[{"filter":"datum.kind==='out'"}],"mark":{"type":"point","filled":true,"opacity":1,"size":40},"encoding":{"x":{"field":"group","type":"nominal","title":null,"scale":{"domain":["m⁶ A-associated RBPs","other RBPs"],"paddingInner":0,"paddingOuter":0.1},"axis":{"labelAngle":0}},"y":{"field":"value","type":"quantitative","title":null,"scale":{"domain":[-0.224,1.273],"nice":false,"zero":false},"axis":{"values":[0,0.4,0.8,1.2],"format":".1f"}},"color":{"field":"group","type":"nominal","scale":{"domain":["m⁶ A-associated RBPs","other RBPs"],"range":["#6AB0C3","#E9BE15"]},"legend":{"title":null,"orient":"top","direction":"horizontal"}}}},
{"transform":[{"filter":"datum.kind==='lab'"}],"mark":{"type":"text","fontSize":16.7,"color":"black","baseline":"alphabetic"},"encoding":{"y":{"datum":1.074,"type":"quantitative","title":null,"scale":{"domain":[-0.224,1.273],"nice":false,"zero":false},"axis":{"values":[0,0.4,0.8,1.2],"format":".1f"}},"text":{"field":"label"}}}
]},
{"width":9.3,"height":162.7,"transform":[{"filter":"false"}],"mark":"text","encoding":{}},
{"width":323,"height":162.7,"transform":[{"filter":"datum.level==='Protein-level(subset)' && datum.gene==='METTL3'"}],"layer":[
{"transform":[{"filter":"datum.kind==='box'"}],"mark":{"type":"rule","strokeWidth":1.3},"encoding":{"x":{"field":"group","type":"nominal","title":null,"scale":{"domain":["m⁶ A-associated RBPs","other RBPs"],"paddingInner":0,"paddingOuter":0.1},"axis":{"labelAngle":0}},"y":{"field":"lo","type":"quantitative","title":null,"scale":{"domain":[-0.224,1.273],"nice":false,"zero":false},"axis":null},"y2":{"field":"hi"},"color":{"field":"group","type":"nominal","scale":{"domain":["m⁶ A-associated RBPs","other RBPs"],"range":["#6AB0C3","#E9BE15"]},"legend":null}}},
{"transform":[{"filter":"datum.kind==='box'"}],"mark":{"type":"bar","fill":"white","strokeWidth":1.3,"width":{"band":0.75}},"encoding":{"x":{"field":"group","type":"nominal","title":null,"scale":{"domain":["m⁶ A-associated RBPs","other RBPs"],"paddingInner":0,"paddingOuter":0.1},"axis":{"labelAngle":0}},"y":{"field":"q1","type":"quantitative","title":null,"scale":{"domain":[-0.224,1.273],"nice":false,"zero":false},"axis":null},"y2":{"field":"q3"},"stroke":{"field":"group","type":"nominal","scale":{"domain":["m⁶ A-associated RBPs","other RBPs"],"range":["#6AB0C3","#E9BE15"]},"legend":{"title":null,"orient":"none","legendX":387,"legendY":-57,"direction":"horizontal","symbolType":"M-0.78,-0.48H0.78V0.48H-0.78Z M0,-0.48V-0.97 M0,0.48V0.97 M-0.78,0H0.78","symbolSize":729}}}},
{"transform":[{"filter":"datum.kind==='box'"}],"mark":{"type":"tick","thickness":3,"size":110,"opacity":1},"encoding":{"x":{"field":"group","type":"nominal","title":null,"scale":{"domain":["m⁶ A-associated RBPs","other RBPs"],"paddingInner":0,"paddingOuter":0.1},"axis":{"labelAngle":0}},"y":{"field":"med","type":"quantitative","title":null,"scale":{"domain":[-0.224,1.273],"nice":false,"zero":false},"axis":null},"color":{"field":"group","type":"nominal","scale":{"domain":["m⁶ A-associated RBPs","other RBPs"],"range":["#6AB0C3","#E9BE15"]},"legend":null}}},
{"transform":[{"filter":"datum.kind==='out'"}],"mark":{"type":"point","filled":true,"opacity":1,"size":40},"encoding":{"x":{"field":"group","type":"nominal","title":null,"scale":{"domain":["m⁶ A-associated RBPs","other RBPs"],"paddingInner":0,"paddingOuter":0.1},"axis":{"labelAngle":0}},"y":{"field":"value","type":"quantitative","title":null,"scale":{"domain":[-0.224,1.273],"nice":false,"zero":false},"axis":null},"color":{"field":"group","type":"nominal","scale":{"domain":["m⁶ A-associated RBPs","other RBPs"],"range":["#6AB0C3","#E9BE15"]},"legend":{"title":null,"orient":"top","direction":"horizontal"}}}},
{"transform":[{"filter":"datum.kind==='lab'"}],"mark":{"type":"text","fontSize":16.7,"color":"black","baseline":"alphabetic"},"encoding":{"y":{"datum":1.074,"type":"quantitative","title":null,"scale":{"domain":[-0.224,1.273],"nice":false,"zero":false},"axis":null},"text":{"field":"label"}}}
]},
{"width":9.3,"height":162.7,"transform":[{"filter":"false"}],"mark":"text","encoding":{}},
{"width":323,"height":162.7,"transform":[{"filter":"datum.level==='Transcription-level' && datum.gene==='METTL3'"}],"layer":[
{"transform":[{"filter":"datum.kind==='box'"}],"mark":{"type":"rule","strokeWidth":1.3},"encoding":{"x":{"field":"group","type":"nominal","title":null,"scale":{"domain":["m⁶ A-associated RBPs","other RBPs"],"paddingInner":0,"paddingOuter":0.1},"axis":{"labelAngle":0}},"y":{"field":"lo","type":"quantitative","title":null,"scale":{"domain":[-0.224,1.273],"nice":false,"zero":false},"axis":null},"y2":{"field":"hi"},"color":{"field":"group","type":"nominal","scale":{"domain":["m⁶ A-associated RBPs","other RBPs"],"range":["#6AB0C3","#E9BE15"]},"legend":null}}},
{"transform":[{"filter":"datum.kind==='box'"}],"mark":{"type":"bar","fill":"white","strokeWidth":1.3,"width":{"band":0.75}},"encoding":{"x":{"field":"group","type":"nominal","title":null,"scale":{"domain":["m⁶ A-associated RBPs","other RBPs"],"paddingInner":0,"paddingOuter":0.1},"axis":{"labelAngle":0}},"y":{"field":"q1","type":"quantitative","title":null,"scale":{"domain":[-0.224,1.273],"nice":false,"zero":false},"axis":null},"y2":{"field":"q3"},"stroke":{"field":"group","type":"nominal","scale":{"domain":["m⁶ A-associated RBPs","other RBPs"],"range":["#6AB0C3","#E9BE15"]},"legend":{"title":null,"orient":"none","legendX":387,"legendY":-57,"direction":"horizontal","symbolType":"M-0.78,-0.48H0.78V0.48H-0.78Z M0,-0.48V-0.97 M0,0.48V0.97 M-0.78,0H0.78","symbolSize":729}}}},
{"transform":[{"filter":"datum.kind==='box'"}],"mark":{"type":"tick","thickness":3,"size":110,"opacity":1},"encoding":{"x":{"field":"group","type":"nominal","title":null,"scale":{"domain":["m⁶ A-associated RBPs","other RBPs"],"paddingInner":0,"paddingOuter":0.1},"axis":{"labelAngle":0}},"y":{"field":"med","type":"quantitative","title":null,"scale":{"domain":[-0.224,1.273],"nice":false,"zero":false},"axis":null},"color":{"field":"group","type":"nominal","scale":{"domain":["m⁶ A-associated RBPs","other RBPs"],"range":["#6AB0C3","#E9BE15"]},"legend":null}}},
{"transform":[{"filter":"datum.kind==='out'"}],"mark":{"type":"point","filled":true,"opacity":1,"size":40},"encoding":{"x":{"field":"group","type":"nominal","title":null,"scale":{"domain":["m⁶ A-associated RBPs","other RBPs"],"paddingInner":0,"paddingOuter":0.1},"axis":{"labelAngle":0}},"y":{"field":"value","type":"quantitative","title":null,"scale":{"domain":[-0.224,1.273],"nice":false,"zero":false},"axis":null},"color":{"field":"group","type":"nominal","scale":{"domain":["m⁶ A-associated RBPs","other RBPs"],"range":["#6AB0C3","#E9BE15"]},"legend":{"title":null,"orient":"top","direction":"horizontal"}}}},
{"transform":[{"filter":"datum.kind==='lab'"}],"mark":{"type":"text","fontSize":16.7,"color":"black","baseline":"alphabetic"},"encoding":{"y":{"datum":1.074,"type":"quantitative","title":null,"scale":{"domain":[-0.224,1.273],"nice":false,"zero":false},"axis":null},"text":{"field":"label"}}}
]},
{"width":31,"height":162.7,"view":{"fill":"#D9D9D9"},"transform":[{"filter":"datum.kind==='strip' && datum.name==='METTL3'"}],"mark":{"type":"text","fontSize":16,"color":"#1A1A1A","angle":90},"encoding":{"text":{"field":"name"}}}
],
"config": {
  "font": "Liberation Sans",
  "view": {"stroke": null},
  "axis": {"grid": false, "domainColor": "black", "domainWidth": 1.1, "tickColor": "#333333", "tickWidth": 1.1, "tickSize": 4.5, "labelColor": "#4D4D4D", "labelFontSize": 16, "labelPadding": 3},
  "legend": {"symbolStrokeWidth": 1.4, "symbolFillColor": "#F2F2F2", "labelFontSize": 16.5, "labelColor": "black", "labelOffset": 9.5, "labelLimit": 320, "columnPadding": 11, "padding": 0, "layout": {"top": {"anchor": "middle"}}}
}
}
